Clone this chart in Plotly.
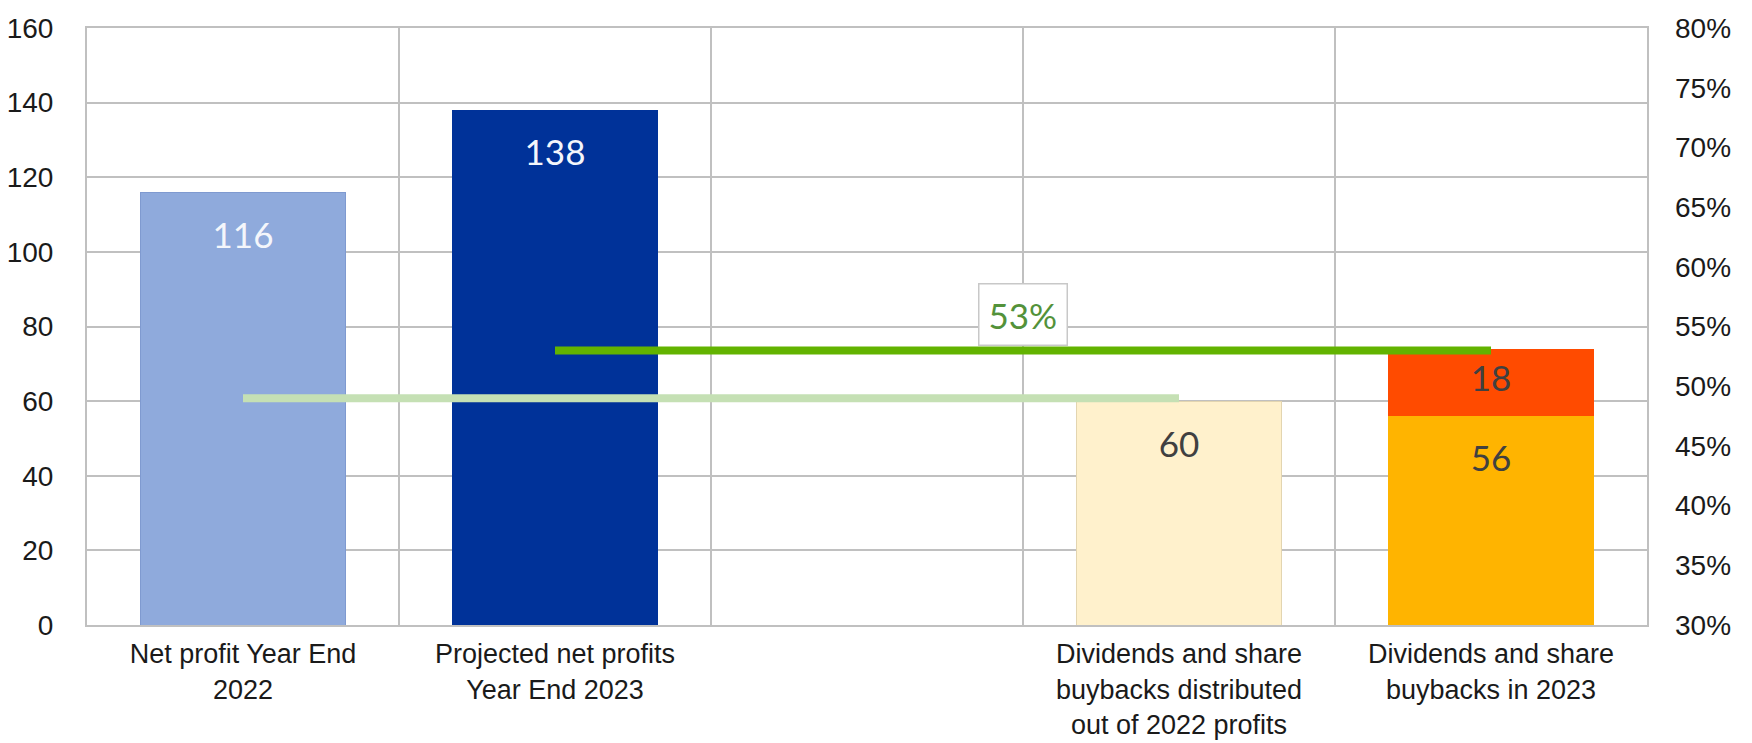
import plotly.graph_objects as go

# ---- data ----
categories = [
    "Net profit Year End<br>2022",
    "Projected net profits<br>Year End 2023",
    " ",
    "Dividends and share<br>buybacks distributed<br>out of 2022 profits",
    "Dividends and share<br>buybacks in 2023",
]
base_values = [116, 138, None, 60, 56]
top_values = [None, None, None, None, 18]
payout_2022 = [0.49, 0.49, 0.49, 0.49, None]
payout_2023 = [None, 0.53, 0.53, 0.53, 0.53]
payout_label = "53%"

# ---- styles ----
base_colors = ["#8FAADC", "#003299", "#FFFFFF", "#FFF1CC", "#FFB400"]
base_line_colors = ["#7F9AD0", "#003299", "#FFFFFF", "#E3D5B0", "#FFB400"]
label_colors = ["#F4F6FB", "#F4F6FB", "#404040", "#404040", "#404040"]
top_color = "#FF4B00"
grid_color = "#C0C0C0"
LABEL_DROP = 12.5  # data units below bar top for inside-end labels

fig = go.Figure()

fig.add_trace(go.Bar(
    x=categories, y=base_values, width=0.66,
    marker=dict(color=base_colors, line=dict(color=base_line_colors, width=1)),
    showlegend=False, hoverinfo="skip",
))
fig.add_trace(go.Bar(
    x=categories, y=top_values, width=0.66,
    marker=dict(color=top_color, line=dict(width=0)),
    showlegend=False, hoverinfo="skip",
))

# value labels
lab_x, lab_y, lab_t, lab_c = [], [], [], []
for c, v, col in zip(categories, base_values, label_colors):
    if v is None:
        continue
    lab_x.append(c)
    lab_y.append(v - LABEL_DROP)
    lab_t.append(str(v))
    lab_c.append(col)
for c, b, t in zip(categories, base_values, top_values):
    if t is None:
        continue
    lab_x.append(c)
    lab_y.append(b + t / 2)
    lab_t.append(str(t))
    lab_c.append("#404040")

fig.add_trace(go.Scatter(
    x=lab_x, y=lab_y, text=lab_t, mode="text",
    textfont=dict(family="Lato, Open Sans, sans-serif", size=35, color=lab_c),
    showlegend=False, hoverinfo="skip",
))

fig.add_trace(go.Scatter(
    x=categories, y=payout_2022, yaxis="y2", mode="lines",
    line=dict(color="#C5E0B4", width=8), connectgaps=False,
    showlegend=False, hoverinfo="skip",
))
fig.add_trace(go.Scatter(
    x=categories, y=payout_2023, yaxis="y2", mode="lines",
    line=dict(color="#62B300", width=8), connectgaps=False,
    showlegend=False, hoverinfo="skip",
))

fig.add_annotation(
    x=2.5, xref="x", y=0.53, yref="y2", yanchor="bottom", yshift=4,
    text=payout_label, showarrow=False,
    font=dict(family="Lato, Open Sans, sans-serif", size=35, color="#53923A"),
    bgcolor="white", bordercolor="#C8C8C8", borderwidth=1.5, borderpad=9,
)

tick_font = dict(family="Liberation Sans, Arial, sans-serif", size=28, color="#1A1A1A")
xtick_font = dict(family="Liberation Sans, Arial, sans-serif", size=27, color="#1A1A1A")

fig.update_layout(
    width=1744, height=735,
    margin=dict(l=79, r=105, t=20, b=118),
    paper_bgcolor="white", plot_bgcolor="white",
    barmode="stack", bargap=0.3,
    xaxis=dict(
        type="category", tickson="boundaries", range=[-0.5, 4.5], automargin=False,
        showgrid=True, gridcolor=grid_color, gridwidth=2,
        showline=True, mirror=True, linecolor=grid_color, linewidth=2,
        ticks="", tickfont=xtick_font, ticklabelstandoff=4, zeroline=False,
    ),
    yaxis=dict(
        range=[0, 160], dtick=20, tick0=0, automargin=False,
        showgrid=True, gridcolor=grid_color, gridwidth=2,
        showline=True, mirror=True, linecolor=grid_color, linewidth=2,
        ticks="", tickfont=tick_font, ticklabelstandoff=26, zeroline=False,
    ),
    yaxis2=dict(
        overlaying="y", side="right", range=[0.30, 0.80], dtick=0.05, tick0=0.30,
        tickformat=".0%", showgrid=False, zeroline=False, showline=False, automargin=False,
        ticks="", tickfont=tick_font, ticklabelstandoff=27,
    ),
)

fig.write_html("out.html")
